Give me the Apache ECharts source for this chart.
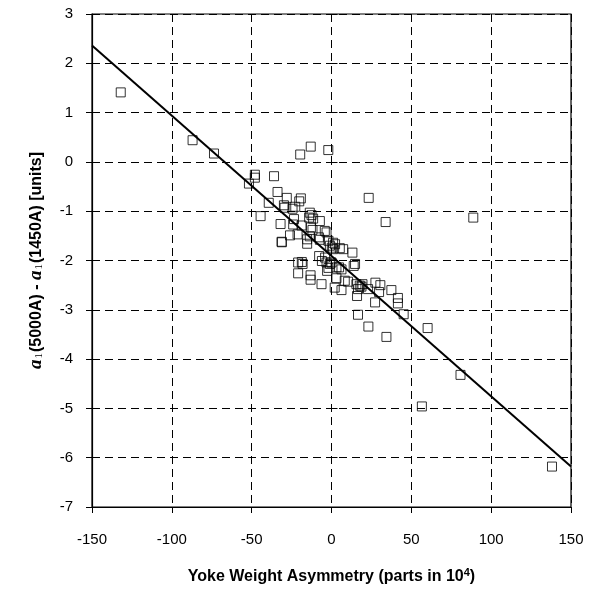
<!DOCTYPE html>
<html><head><meta charset="utf-8">
<script src="https://cdn.jsdelivr.net/npm/echarts@6/dist/echarts.min.js"></script>
<style>html,body{margin:0;padding:0;background:#fff}#c{width:598px;height:590px}</style>
</head><body><div id="c"></div>
<script>
const xTicks = [-150, -100, -50, 0, 50, 100, 150];
const yTicks = [3, 2, 1, 0, -1, -2, -3, -4, -5, -6, -7];
const measurements = [
  [-132, 1.41], [-87, 0.44], [-73.6, 0.17], [-19.6, 0.15], [-13, 0.31], [-2, 0.24],
  [-48, -0.26], [-48, -0.32], [-51.7, -0.44], [-36, -0.29], [-33.8, -0.61], [-28, -0.73],
  [-39.3, -0.83], [-19.2, -0.74], [-20.2, -0.8], [-44.4, -1.1], [-31.9, -1.26], [-31.1, -1.63],
  [-29.4, -0.93], [-24.4, -0.95], [-22.7, -0.91], [-29.8, -0.88],
  [-13.6, -1.03], [-12.5, -1.08], [-14, -1.13], [-11.5, -1.15],
  [-7.3, -1.2], [-23.5, -1.16], [-24, -1.27], [-18.75, -1.29],
  [-12.9, -1.33], [-11.9, -1.38], [-4.2, -1.4], [-3.1, -1.43],
  [-26, -1.49], [-21.25, -1.47], [-13.6, -1.51], [-15.25, -1.57],
  [-7.9, -1.53], [-7.3, -1.58], [-1.9, -1.6], [1, -1.64], [2.25, -1.67], [-1, -1.7], [0.2, -1.74],
  [-15.25, -1.66], [5.2, -1.75], [13.1, -1.84], [7.3, -1.77], [1, -1.77],
  [-7.75, -1.91], [-4, -1.94], [-3.1, -2.04], [-6, -2.01], [0, -2.04], [3.1, -2.14],
  [-18.6, -2.03], [-18.1, -2.07], [-20.9, -2.04],
  [-1, -2.07], [-1.9, -2.15], [-2.75, -2.21],
  [14.75, -2.07], [13.9, -2.11], [4.75, -2.14], [6.25, -2.18],
  [-20.9, -2.26], [-13.1, -2.3], [-13.1, -2.39], [-6.25, -2.48],
  [3.1, -2.36], [8.3, -2.41], [10.4, -2.43],
  [15.6, -2.48], [17.7, -2.51], [19.4, -2.48], [16.6, -2.58], [16, -2.72], [18.75, -2.53],
  [27.5, -2.45], [30.6, -2.5], [29.8, -2.64],
  [6.25, -2.6], [22.9, -2.58], [27.3, -2.85], [37.5, -2.6], [41.6, -2.76], [41.6, -2.87],
  [16.6, -3.1], [23.1, -3.34], [34.4, -3.55], [45.2, -3.09],
  [60.2, -3.37], [80.8, -4.32], [56.6, -4.96], [138.1, -6.18],
  [23.3, -0.73], [33.9, -1.22], [88.8, -1.13], [2, -2.55], [-31.25, -1.62]
];
const fitLine = [[-150, 2.36], [150, -6.18]];

const chart = echarts.init(document.getElementById('c'), null, {renderer: 'canvas'});
const lbl = {color: '#000', fontFamily: 'Liberation Sans, Arial, sans-serif', fontSize: 15};
const xMin = xTicks[0], xMax = xTicks[xTicks.length - 1];
const yMin = yTicks[yTicks.length - 1], yMax = yTicks[0];
chart.setOption({
  animation: false,
  backgroundColor: '#fff',
  grid: {left: 92, right: 27, top: 14, bottom: 80, show: true, borderColor: '#000', borderWidth: 1.2, backgroundColor: 'transparent'},
  xAxis: [{
    type: 'value', min: xMin, max: xMax, interval: 50,
    axisLine: {show: true, onZero: false, lineStyle: {color: '#000', width: 1.2}},
    axisTick: {show: true, length: 6, lineStyle: {color: '#000'}},
    axisLabel: Object.assign({margin: 25}, lbl),
    splitLine: {show: true, lineStyle: {color: '#000', type: [8, 5], width: 1}},
    name: '{b|Yoke Weight Asymmetry (parts in 10}{sup|4}{b|)}',
    nameLocation: 'middle', nameGap: 60,
    nameTextStyle: {
      rich: {
        b: {fontFamily: 'Liberation Sans, Arial, sans-serif', fontWeight: 'bold', fontSize: 16, color: '#000', lineHeight: 20},
        sup: {fontFamily: 'Liberation Sans, Arial, sans-serif', fontWeight: 'bold', fontSize: 11, color: '#000', verticalAlign: 'top', lineHeight: 20, padding: [0, 0, 6, 0]}
      }
    }
  }, {
    type: 'value', min: xMin, max: xMax, interval: 50, position: 'bottom',
    axisLine: {show: false}, axisLabel: {show: false}, splitLine: {show: false},
    axisTick: {show: true, inside: true, length: 6, lineStyle: {color: '#000'}}
  }],
  yAxis: [{
    type: 'value', min: yMin, max: yMax, interval: 1,
    axisLine: {show: true, onZero: false, lineStyle: {color: '#000', width: 1.2}},
    axisTick: {show: true, length: 6, lineStyle: {color: '#000'}},
    axisLabel: Object.assign({margin: 19}, lbl),
    splitLine: {show: true, lineStyle: {color: '#000', type: [8, 5], width: 1}},
    name: '{a|a}{s|1}{t|(5000A) - }{a|a}{s|1}{t|(1450A) [units]}',
    nameLocation: 'middle', nameRotate: 90, nameGap: 46,
    nameTextStyle: {
      rich: {
        a: {fontFamily: 'Liberation Serif, Times New Roman, serif', fontStyle: 'italic', fontWeight: 'bold', fontSize: 19, color: '#000'},
        s: {fontFamily: 'Liberation Serif, Times New Roman, serif', fontSize: 11, color: '#000', padding: [6, 1, 0, 1]},
        t: {fontFamily: 'Liberation Sans, Arial, sans-serif', fontWeight: 'bold', fontSize: 16, color: '#000'}
      }
    }
  }, {
    type: 'value', min: yMin, max: yMax, interval: 1, position: 'left',
    axisLine: {show: false}, axisLabel: {show: false}, splitLine: {show: false},
    axisTick: {show: true, inside: true, length: 6, lineStyle: {color: '#000'}}
  }],
  series: [
    {
      type: 'scatter', data: measurements, symbol: 'rect', symbolSize: 9,
      itemStyle: {color: 'rgba(255,255,255,0)', borderColor: '#000', borderWidth: 1}
    },
    {
      type: 'line', data: fitLine, symbol: 'none', silent: true,
      lineStyle: {color: '#000', width: 2}
    }
  ]
});
</script></body></html>
